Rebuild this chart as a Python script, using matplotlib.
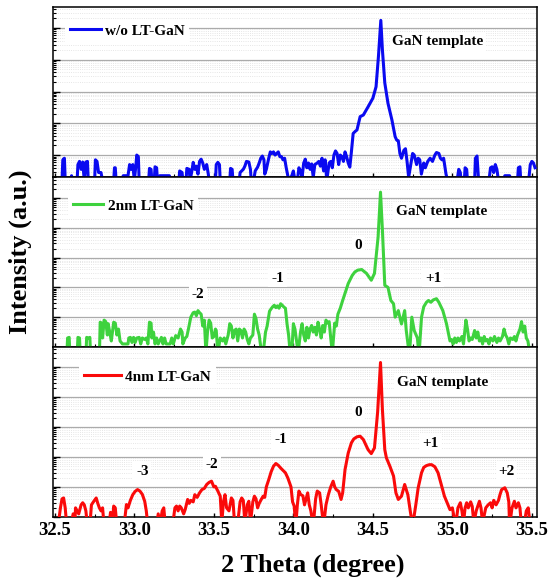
import numpy as np
import matplotlib.pyplot as plt
from matplotlib.ticker import MultipleLocator, LogLocator, NullFormatter

# XRD omega-2theta scans, values read as log10(intensity) from the figure
two_theta_range = (32.487, 35.531)
x_ticks = [32.5, 33.0, 33.5, 34.0, 34.5, 35.0, 35.5]

labels = ["w/o LT-GaN", "2nm LT-GaN", "4nm LT-GaN"]
colors = ["#0a0af0", "#3ed23e", "#fa0a0a"]
log_limits = [(0.31, 5.66), (0.0, 5.71), (0.0, 5.67)]

# (2theta, log10 I)
wo_pts = [
    (32.52, 0.2), (32.545, 0.2), (32.55, 0.85), (32.56, 0.9), (32.565, 0.2), (32.60, 0.2),
    (32.605, 0.35), (32.61, 0.2), (32.64, 0.2), (32.645, 0.7), (32.655, 0.8), (32.665, 0.55),
    (32.675, 0.78), (32.685, 0.2), (32.695, 0.78), (32.705, 0.8), (32.71, 0.2), (32.75, 0.2),
    (32.755, 0.85), (32.765, 0.8), (32.775, 0.45), (32.79, 0.45), (32.80, 0.2), (32.87, 0.2),
    (32.875, 0.6), (32.88, 0.6), (32.885, 0.2), (32.92, 0.2), (32.93, 0.35), (32.96, 0.35),
    (32.97, 0.7), (32.98, 0.55), (32.99, 0.7), (33.00, 0.2), (33.01, 0.7), (33.015, 1.0),
    (33.025, 0.95), (33.03, 0.2), (33.09, 0.2), (33.095, 0.58), (33.105, 0.55), (33.11, 0.2),
    (33.125, 0.2), (33.13, 0.63), (33.14, 0.6), (33.145, 0.2), (33.16, 0.35), (33.22, 0.35),
    (33.23, 0.2), (33.28, 0.2), (33.285, 0.5), (33.30, 0.45), (33.305, 0.2), (33.325, 0.2),
    (33.33, 0.58), (33.345, 0.55), (33.35, 0.2), (33.36, 0.45), (33.37, 0.77), (33.38, 0.55),
    (33.39, 0.65), (33.40, 0.4), (33.41, 0.8), (33.42, 0.87), (33.43, 0.75), (33.44, 0.55),
    (33.455, 0.7), (33.465, 0.4), (33.47, 0.2), (33.51, 0.2), (33.515, 0.7), (33.525, 0.77),
    (33.535, 0.7), (33.54, 0.2), (33.60, 0.2), (33.605, 0.58), (33.615, 0.55), (33.62, 0.2),
    (33.66, 0.2), (33.665, 0.45), (33.675, 0.5), (33.685, 0.55), (33.695, 0.65), (33.705, 0.8),
    (33.72, 0.78), (33.73, 0.55), (33.735, 0.2), (33.75, 0.2), (33.76, 0.5), (33.775, 0.62),
    (33.785, 0.75), (33.795, 0.9), (33.805, 0.97), (33.815, 0.85), (33.82, 0.4), (33.83, 0.55),
    (33.845, 0.9), (33.855, 1.1), (33.865, 1.05), (33.875, 1.1), (33.885, 1.0), (33.895, 1.05),
    (33.905, 1.1), (33.915, 0.95), (33.925, 0.95), (33.935, 0.85), (33.945, 0.9), (33.955, 0.6),
    (33.965, 0.35), (33.975, 0.2), (33.99, 0.35), (34.00, 0.5), (34.01, 0.2), (34.025, 0.2),
    (34.035, 0.6), (34.045, 0.5), (34.055, 0.3), (34.065, 0.75), (34.075, 0.87), (34.085, 0.6),
    (34.095, 0.75), (34.105, 0.55), (34.115, 0.72), (34.125, 0.3), (34.135, 0.7), (34.15, 0.75),
    (34.16, 0.8), (34.17, 0.65), (34.18, 0.9), (34.19, 0.5), (34.20, 0.85), (34.21, 0.2),
    (34.225, 0.75), (34.235, 0.8), (34.245, 0.6), (34.255, 1.0), (34.265, 1.13), (34.275, 1.05),
    (34.285, 0.7), (34.295, 1.0), (34.305, 0.95), (34.315, 0.8), (34.325, 1.1), (34.335, 0.95),
    (34.345, 0.75), (34.355, 0.62), (34.365, 1.1), (34.376, 1.68), (34.39, 1.75), (34.40, 1.79),
    (34.42, 2.21), (34.44, 2.26), (34.47, 2.52), (34.50, 2.79), (34.52, 3.15), (34.535, 4.1),
    (34.55, 5.24), (34.56, 4.31), (34.575, 3.27), (34.595, 2.63), (34.62, 2.1), (34.64, 1.58),
    (34.65, 1.47), (34.66, 1.45), (34.67, 1.05), (34.68, 0.9), (34.695, 1.15), (34.705, 1.2),
    (34.715, 0.8), (34.725, 0.3), (34.735, 0.6), (34.75, 1.05), (34.76, 1.0), (34.775, 0.7),
    (34.785, 0.9), (34.795, 0.85), (34.805, 0.4), (34.82, 0.75), (34.83, 0.6), (34.845, 0.8),
    (34.86, 0.9), (34.875, 0.8), (34.89, 1.0), (34.90, 1.08), (34.915, 1.05), (34.925, 0.9),
    (34.935, 0.85), (34.945, 0.9), (34.96, 0.4), (34.97, 0.2), (35.03, 0.2), (35.04, 0.55),
    (35.05, 0.45), (35.055, 0.2), (35.075, 0.2), (35.08, 0.6), (35.09, 0.55), (35.095, 0.2),
    (35.14, 0.2), (35.145, 0.9), (35.155, 0.97), (35.165, 0.2), (35.23, 0.2), (35.24, 0.6),
    (35.25, 0.63), (35.26, 0.45), (35.27, 0.7), (35.28, 0.55), (35.29, 0.2), (35.32, 0.2),
    (35.33, 0.35), (35.36, 0.35), (35.37, 0.2), (35.41, 0.2), (35.415, 0.6), (35.425, 0.63),
    (35.43, 0.2), (35.48, 0.2), (35.49, 0.7), (35.50, 0.8), (35.51, 0.75), (35.52, 0.6),
]

lt2_pts = [
    (32.52, -0.3), (32.575, -0.3), (32.58, 0.3), (32.59, 0.32), (32.595, -0.3), (32.64, -0.3),
    (32.645, 0.32), (32.655, 0.3), (32.66, -0.3), (32.695, -0.3), (32.70, 0.32), (32.71, 0.3),
    (32.72, 0.32), (32.725, -0.3), (32.78, -0.3), (32.785, 0.83), (32.795, 0.8), (32.80, 0.3),
    (32.81, 0.9), (32.82, 0.85), (32.83, 0.4), (32.835, 0.78), (32.845, 0.5), (32.855, 0.2),
    (32.87, 0.83), (32.88, 0.8), (32.89, 0.4), (32.90, 0.6), (32.91, 0.2), (32.925, 0.1),
    (32.96, 0.1), (32.965, 0.3), (32.975, 0.32), (32.985, 0.15), (32.995, 0.32), (33.005, 0.15),
    (33.015, 0.3), (33.03, 0.32), (33.04, 0.1), (33.05, 0.3), (33.065, 0.25), (33.075, 0.3),
    (33.085, 0.1), (33.095, 0.83), (33.105, 0.8), (33.11, 0.3), (33.12, 0.5), (33.13, 0.1),
    (33.14, 0.3), (33.15, 0.1), (33.17, 0.32), (33.18, 0.1), (33.19, 0.3), (33.20, 0.1),
    (33.225, 0.1), (33.235, 0.3), (33.245, 0.1), (33.26, 0.38), (33.275, 0.3), (33.29, 0.6),
    (33.30, 0.5), (33.305, 0.1), (33.32, 0.3), (33.33, 0.35), (33.34, 0.6), (33.355, 1.0),
    (33.37, 1.15), (33.38, 1.17), (33.39, 1.05), (33.40, 1.22), (33.41, 1.15), (33.42, 1.1),
    (33.43, 0.7), (33.44, 0.9), (33.45, -0.2), (33.46, 0.5), (33.47, 0.9), (33.48, 0.8),
    (33.49, 0.3), (33.50, 0.35), (33.51, 0.6), (33.515, 0.55), (33.525, -0.2), (33.54, 0.3),
    (33.555, 0.2), (33.565, 0.3), (33.575, 0.1), (33.59, 0.4), (33.60, 0.78), (33.61, 0.7),
    (33.62, 0.3), (33.63, 0.55), (33.64, 0.6), (33.65, 0.2), (33.66, 0.6), (33.67, 0.55),
    (33.68, 0.3), (33.69, 0.6), (33.70, 0.5), (33.71, 0.25), (33.72, 0.1), (33.73, 0.3),
    (33.745, 0.4), (33.755, 1.1), (33.765, 0.95), (33.775, 0.6), (33.785, 0.4), (33.80, -0.2),
    (33.81, -0.2), (33.825, 0.5), (33.835, 0.7), (33.85, 1.2), (33.86, 1.28), (33.87, 1.35),
    (33.88, 1.4), (33.89, 1.32), (33.90, 1.38), (33.91, 1.3), (33.92, 1.45), (33.93, 1.4),
    (33.94, 1.34), (33.95, 1.3), (33.96, 0.78), (33.97, 0.4), (33.98, -0.2), (33.99, -0.2),
    (34.00, 0.78), (34.01, 0.6), (34.02, 0.2), (34.03, -0.2), (34.045, 0.5), (34.055, 0.78),
    (34.065, 0.4), (34.075, 0.2), (34.085, 0.66), (34.095, 0.3), (34.105, 0.6), (34.115, 0.72),
    (34.125, 0.5), (34.135, 0.66), (34.145, 0.4), (34.155, 0.83), (34.165, 0.6), (34.175, 0.3),
    (34.185, 0.72), (34.195, 0.5), (34.205, 0.9), (34.215, 0.8), (34.225, 0.85), (34.235, 0.3),
    (34.245, -0.2), (34.26, 0.8), (34.27, 0.7), (34.28, 1.1), (34.295, 1.3), (34.31, 1.56),
    (34.325, 1.8), (34.335, 1.96), (34.345, 2.13), (34.355, 2.24), (34.37, 2.4), (34.387, 2.52),
    (34.405, 2.58), (34.43, 2.6), (34.46, 2.47), (34.49, 2.24), (34.51, 2.47), (34.533, 3.7),
    (34.548, 5.2), (34.56, 3.93), (34.575, 2.07), (34.595, 2.0), (34.613, 1.56), (34.63, 1.45),
    (34.64, 1.0), (34.66, 1.22), (34.68, 0.77), (34.70, 1.22), (34.71, 0.55), (34.73, -0.3),
    (34.745, 1.0), (34.76, 0.55), (34.78, 0.3), (34.79, -0.3), (34.806, 1.0), (34.82, 1.35),
    (34.837, 1.5), (34.85, 1.56), (34.865, 1.5), (34.88, 1.58), (34.90, 1.62), (34.915, 1.5),
    (34.94, 1.22), (34.963, 0.78), (34.985, 0.2), (34.995, 0.25), (35.005, 0.1), (35.015, 0.3),
    (35.025, 0.15), (35.035, 0.3), (35.045, 0.2), (35.06, 0.35), (35.07, 0.1), (35.085, 0.9),
    (35.095, 0.6), (35.105, 0.2), (35.115, 0.3), (35.125, 0.25), (35.14, 0.55), (35.15, 0.3),
    (35.16, 0.5), (35.17, 0.2), (35.18, 0.3), (35.19, 0.1), (35.20, 0.35), (35.21, 0.2),
    (35.22, 0.25), (35.23, 0.1), (35.24, 0.3), (35.255, 0.2), (35.265, 0.35), (35.28, 0.15),
    (35.29, 0.3), (35.30, 0.2), (35.315, 0.35), (35.325, 0.6), (35.335, 0.4), (35.345, 0.3),
    (35.355, 0.1), (35.365, 0.3), (35.38, 0.25), (35.39, 0.35), (35.40, 0.2), (35.41, 0.4),
    (35.425, 0.6), (35.435, 0.85), (35.445, 0.5), (35.455, 0.7), (35.465, 0.3), (35.475, 0.2),
    (35.49, -0.3),
]

lt4_pts = [
    (32.52, -0.3), (32.535, 0.3), (32.545, 0.6), (32.555, 0.63), (32.565, 0.3), (32.575, -0.3),
    (32.60, -0.3), (32.615, 0.1), (32.625, -0.3), (32.63, 0.3), (32.64, 0.2), (32.65, 0.1),
    (32.665, 0.4), (32.675, 0.47), (32.685, 0.4), (32.695, 0.2), (32.705, -0.3), (32.72, -0.3),
    (32.73, 0.4), (32.745, 0.52), (32.76, 0.63), (32.77, 0.45), (32.78, 0.3), (32.79, 0.2),
    (32.80, 0.3), (32.81, -0.3), (32.84, -0.3), (32.85, 0.15), (32.86, -0.3), (32.87, 0.36),
    (32.88, 0.3), (32.89, -0.3), (32.935, -0.3), (32.95, 0.41), (32.96, 0.3), (32.975, 0.55),
    (32.99, 0.74), (33.005, 0.85), (33.02, 0.91), (33.035, 0.86), (33.05, 0.75), (33.065, 0.52),
    (33.075, 0.2), (33.085, -0.3), (33.14, -0.3), (33.15, 0.1), (33.16, -0.3), (33.175, 0.2),
    (33.185, 0.3), (33.195, -0.3), (33.24, -0.3), (33.255, 0.3), (33.265, 0.36), (33.275, 0.2),
    (33.285, 0.36), (33.295, 0.3), (33.31, 0.1), (33.32, 0.25), (33.335, 0.58), (33.345, 0.45),
    (33.355, 0.55), (33.37, 0.5), (33.38, 0.74), (33.395, 0.65), (33.41, 0.8), (33.425, 0.91),
    (33.44, 0.95), (33.455, 1.08), (33.47, 1.15), (33.485, 1.19), (33.50, 1.0), (33.51, 1.02),
    (33.525, 0.86), (33.54, 0.69), (33.55, -0.2), (33.56, 0.5), (33.57, 0.74), (33.58, 0.3),
    (33.595, 0.2), (33.61, 0.63), (33.62, 0.55), (33.63, -0.2), (33.65, -0.2), (33.665, 0.5),
    (33.675, 0.63), (33.685, 0.55), (33.695, -0.2), (33.71, 0.4), (33.72, 0.52), (33.73, -0.2),
    (33.745, 0.5), (33.755, 0.69), (33.765, 0.6), (33.775, 0.3), (33.785, 0.45), (33.80, 0.6),
    (33.81, 0.69), (33.82, 0.65), (33.83, 1.0), (33.845, 1.24), (33.86, 1.5), (33.875, 1.69),
    (33.89, 1.78), (33.905, 1.72), (33.92, 1.63), (33.935, 1.55), (33.95, 1.47), (33.965, 1.3),
    (33.985, 1.0), (33.995, 0.5), (34.005, 0.36), (34.015, -0.3), (34.025, 0.4), (34.035, 0.86),
    (34.045, 0.75), (34.06, 0.7), (34.07, 0.4), (34.08, 0.6), (34.09, 0.8), (34.10, 0.4),
    (34.11, 0.2), (34.125, -0.3), (34.14, 0.6), (34.15, 0.86), (34.165, 0.8), (34.175, 0.4),
    (34.19, -0.3), (34.205, 0.4), (34.22, 0.74), (34.235, 1.0), (34.25, 1.19), (34.26, 1.0),
    (34.27, 0.91), (34.285, 0.85), (34.30, 0.58), (34.31, 0.8), (34.325, 1.58), (34.345, 2.13),
    (34.365, 2.47), (34.38, 2.6), (34.40, 2.67), (34.42, 2.69), (34.44, 2.58), (34.47, 2.24),
    (34.49, 2.11), (34.51, 2.3), (34.53, 3.5), (34.548, 5.15), (34.56, 3.58), (34.575, 2.24),
    (34.585, 1.97), (34.607, 1.69), (34.63, 1.36), (34.645, 0.8), (34.66, 0.58), (34.68, 0.69),
    (34.70, 1.08), (34.72, 0.74), (34.735, 0.2), (34.75, -0.3), (34.77, 0.4), (34.785, 0.97),
    (34.806, 1.47), (34.82, 1.65), (34.837, 1.71), (34.855, 1.74), (34.87, 1.74), (34.89, 1.67),
    (34.91, 1.47), (34.93, 1.08), (34.95, 0.69), (34.965, 0.5), (34.985, 0.24), (35.0, 0.3),
    (35.02, -0.3), (35.035, 0.3), (35.05, 0.47), (35.06, 0.2), (35.07, -0.2), (35.08, 0.3),
    (35.09, 0.47), (35.10, 0.3), (35.115, 0.5), (35.125, 0.35), (35.135, -0.2), (35.15, 0.2),
    (35.17, 0.52), (35.18, 0.3), (35.19, -0.2), (35.21, 0.3), (35.225, 0.4), (35.24, 0.47),
    (35.25, 0.3), (35.26, 0.55), (35.275, 0.4), (35.29, 0.55), (35.30, 0.75), (35.31, 0.91),
    (35.33, 0.97), (35.345, 0.8), (35.355, 0.5), (35.36, -0.3), (35.375, 0.3), (35.39, 0.52),
    (35.40, 0.3), (35.415, 0.47), (35.425, 0.3), (35.435, -0.3), (35.45, -0.3), (35.465, 0.2),
    (35.477, 0.3), (35.49, -0.3),
]

# satellite peak labels: (text, 2theta, log10 I)
peak_labels = [
    [],
    [("-2", 33.40, 1.77), ("-1", 33.90, 2.31), ("0", 34.41, 3.42), ("+1", 34.88, 2.31)],
    [("-3", 33.05, 1.51), ("-2", 33.49, 1.74), ("-1", 33.92, 2.58), ("0", 34.41, 3.48),
     ("+1", 34.86, 2.44), ("+2", 35.34, 1.51)],
]
template_pos = [(34.91, 4.56), (34.93, 4.54), (34.94, 4.48)]
legend_anchor = [(0.026, 0.86), (0.032, 0.83), (0.055, 0.824)]
handle_len = [2.0, 2.0, 2.4]

plt.rcParams['font.family'] = ['Liberation Serif', 'DejaVu Serif']
plt.rcParams['font.weight'] = 'bold'

fig, axes = plt.subplots(3, 1, figsize=(5.5, 5.86), dpi=100, sharex=True)
fig.subplots_adjust(left=0.096, right=0.976, bottom=0.118, top=0.988, hspace=0)

for i, (ax, pts) in enumerate(zip(axes, [wo_pts, lt2_pts, lt4_pts])):
    x, logI = np.array(pts).T
    ax.plot(x, 10 ** logI, color=colors[i], lw=2.2, label=labels[i], zorder=3)
    ax.set_yscale('log')
    ax.set_ylim(10 ** log_limits[i][0], 10 ** log_limits[i][1])
    ax.set_xlim(*two_theta_range)
    ax.set_axisbelow(True)

    ax.yaxis.set_major_locator(LogLocator(base=10, numticks=12))
    ax.yaxis.set_minor_locator(LogLocator(base=10, subs=np.arange(2, 10), numticks=60))
    ax.yaxis.set_major_formatter(NullFormatter())
    ax.yaxis.set_minor_formatter(NullFormatter())
    ax.grid(which='major', axis='y', color='#ababab', lw=0.9)
    ax.grid(which='minor', axis='y', color='#dedede', lw=0.6, ls=':')

    ax.xaxis.set_major_locator(MultipleLocator(0.5))
    ax.xaxis.set_minor_locator(MultipleLocator(0.25))
    ax.tick_params(axis='y', which='major', direction='in', length=5, width=1)
    ax.tick_params(axis='y', which='minor', direction='in', length=2.5, width=0.8)
    ax.tick_params(axis='x', which='major', direction='in', length=3, width=1, labelsize=13.5)
    ax.tick_params(axis='x', which='minor', direction='in', length=2, width=0.8)
    for s in ax.spines.values():
        s.set_linewidth(1.1)

    leg = ax.legend(loc='center left', bbox_to_anchor=legend_anchor[i], borderaxespad=0,
                    frameon=True, fancybox=False, framealpha=1, facecolor='white',
                    edgecolor='none', prop={'size': 11, 'weight': 'bold'},
                    handlelength=handle_len[i], handletextpad=0.3, borderpad=0.3)
    leg.get_lines()[0].set_linewidth(2.2)

    tx, ty = template_pos[i]
    ax.text(tx, 10 ** ty, "GaN template", ha='center', va='center', fontsize=11,
            fontweight='bold', bbox=dict(facecolor='white', edgecolor='none', pad=2))
    for txt, px, py in peak_labels[i]:
        ax.text(px, 10 ** py, txt, ha='center', va='center', fontsize=11,
                fontweight='bold', bbox=dict(facecolor='white', edgecolor='none', pad=2))

axes[2].set_xticks(x_ticks)
axes[2].set_xticklabels([f"{t:.1f}" for t in x_ticks])

fig.text(0.569, 0.036, "2 Theta (degree)", ha='center', va='center', fontsize=19, fontweight='bold')
fig.text(0.036, 0.57, "Intensity (a.u.)", ha='center', va='center', rotation=90,
         fontsize=19, fontweight='bold')

fig.savefig("out.png", dpi=100)
